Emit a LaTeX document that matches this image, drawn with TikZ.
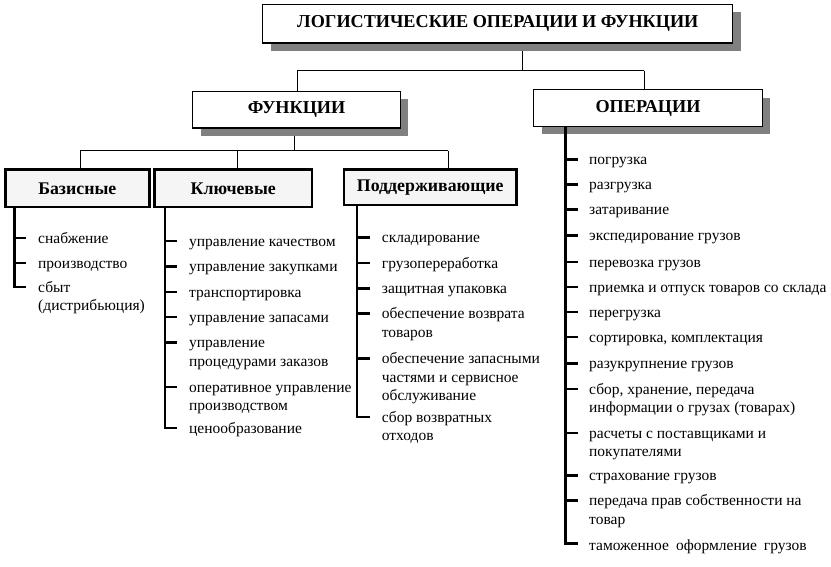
\documentclass[tikz,border=0pt]{standalone}
\usepackage{fontspec}
\setmainfont{Liberation Serif}
\usetikzlibrary{shadows,backgrounds}
\newcommand{\ml}[1]{\begin{tabular}[t]{@{}l@{}}#1\end{tabular}}
\begin{document}
\begin{tikzpicture}[x=1pt,y=-1pt,
  topbox/.style={draw=black, line width=1.1pt, fill=white, inner sep=0pt,
    font=\fontsize{18.2}{20}\selectfont\bfseries,
    drop shadow={opacity=1, fill=black!50, shadow xshift=8pt, shadow yshift=-8pt}},
  catbox/.style={draw=black, line width=2.4pt, fill=black!4, inner sep=0pt,
    font=\fontsize{17.8}{20}\selectfont\bfseries},
  conn/.style={line width=1pt},
  tree/.style={line width=2.4pt},
  item/.style={anchor=base west, inner sep=0pt, font=\fontsize{15.5}{18.5}\selectfont},
]
\useasboundingbox (0,0) rectangle (831,566);

% boxes
\node[topbox, minimum width=470pt, minimum height=38.5pt] (title) at (497.8,23.7) {ЛОГИСТИЧЕСКИЕ ОПЕРАЦИИ И ФУНКЦИИ};
\node[topbox, minimum width=207.5pt, minimum height=36.5pt] (func) at (296.5,109.7) {ФУНКЦИИ};
\node[topbox, minimum width=228.5pt, minimum height=36.5pt] (oper) at (648,108) {ОПЕРАЦИИ};

\node[catbox, minimum width=144pt, minimum height=37.6pt] (bas) at (77.3,188.3) {Базисные};
\node[catbox, minimum width=157.7pt, minimum height=37.6pt] (key) at (233.3,188.3) {Ключевые};
\node[catbox, minimum width=172.6pt, minimum height=35.3pt] (sup) at (430.2,187.2) {Поддерживающие};

% junction coordinates
\coordinate (j0) at (522,70.7);
\coordinate (jf) at (297.3,70.7);
\coordinate (jo) at (644.3,70.7);
\coordinate (k0) at (294.3,150.5);
\coordinate (kb) at (80,150.5);
\coordinate (kk) at (237.5,150.5);
\coordinate (ks) at (448.3,150.5);

\begin{pgfonlayer}{background}
\draw[conn] (title.south -| j0) -- (j0);
\draw[conn] (jf) -- (jo);
\draw[conn] (jf) -- (jf |- func.north);
\draw[conn] (jo) -- (jo |- oper.north);
\draw[conn] (func.south -| k0) -- (k0);
\draw[conn] (kb) -- (ks);
\draw[conn] (kb) -- (kb |- bas.north);
\draw[conn] (kk) -- (kk |- key.north);
\draw[conn] (ks) -- (ks |- sup.north);
\end{pgfonlayer}

% Базисные list
\coordinate (bv) at (14.3,287);
\draw[tree] (bas.south -| bv) -- (bv) -- ++(12,0);
\foreach \i/\y/\t in {1/238/снабжение, 2/263/производство, 3/287/{\ml{сбыт\\(дистрибьюция)}}}{
  \node[item] (b\i) at (38,\y+5) {\t};
}
\foreach \y in {238,263}{ \draw[tree] (14.3,\y) -- ++(12,0); }

% Ключевые list
\coordinate (kv) at (165,428);
\draw[tree] (key.south -| kv) -- (kv) -- ++(12,0);
\foreach \i/\y/\t in {1/241/управление качеством, 2/266.5/управление закупками, 3/292/транспортировка,
  4/317/управление запасами, 5/342.5/{\ml{управление\\процедурами заказов}},
  6/387/{\ml{оперативное управление\\производством}}, 7/428/ценообразование}{
  \node[item] (k\i) at (189,\y+5) {\t};
}
\foreach \y in {241,266.5,292,317,342.5,387}{ \draw[tree] (165,\y) -- ++(12,0); }

% Поддерживающие list
\coordinate (sv) at (356.7,417);
\draw[tree] (sup.south -| sv) -- (sv) -- ++(13,0);
\foreach \i/\y/\t in {1/237.3/складирование, 2/263/грузопереработка, 3/288.5/защитная упаковка,
  4/313.5/{\ml{обеспечение возврата\\товаров}},
  5/358.5/{\ml{обеспечение запасными\\частями и сервисное\\обслуживание}},
  6/417/{\ml{сбор возвратных\\отходов}}}{
  \node[item] (s\i) at (381.7,\y+5) {\t};
}
\foreach \y in {237.3,263,288.5,313.5,358.5}{ \draw[tree] (356.7,\y) -- ++(13,0); }

% Операции list
\coordinate (ov) at (565.5,543.5);
\draw[tree] (oper.south -| ov) -- (ov) -- ++(12.5,0);
\foreach \i/\y/\t in {1/159.3/погрузка, 2/184.5/разгрузка, 3/209.5/затаривание,
  4/235.5/экспедирование грузов, 5/262/перевозка грузов,
  6/287/приемка и отпуск товаров со склада, 7/312/перегрузка,
  8/337/{сортировка, комплектация}, 9/363.5/разукрупнение грузов,
  10/389/{\ml{сбор, хранение, передача\\информации о грузах (товарах)}},
  11/433/{\ml{расчеты с поставщиками и\\покупателями}},
  12/475.5/страхование грузов,
  13/500.5/{\ml{передача прав собственности на\\товар}}}{
  \node[item] (o\i) at (589,\y+5) {\t};
}
\node[item] (o14) at (589,550.7) {таможенное\hspace{7pt}оформление\hspace{7pt}грузов};
\foreach \y in {159.3,184.5,209.5,235.5,262,287,312,337,363.5,389,433,475.5,500.5}{ \draw[tree] (565.5,\y) -- ++(12.5,0); }
\end{tikzpicture}
\end{document}
